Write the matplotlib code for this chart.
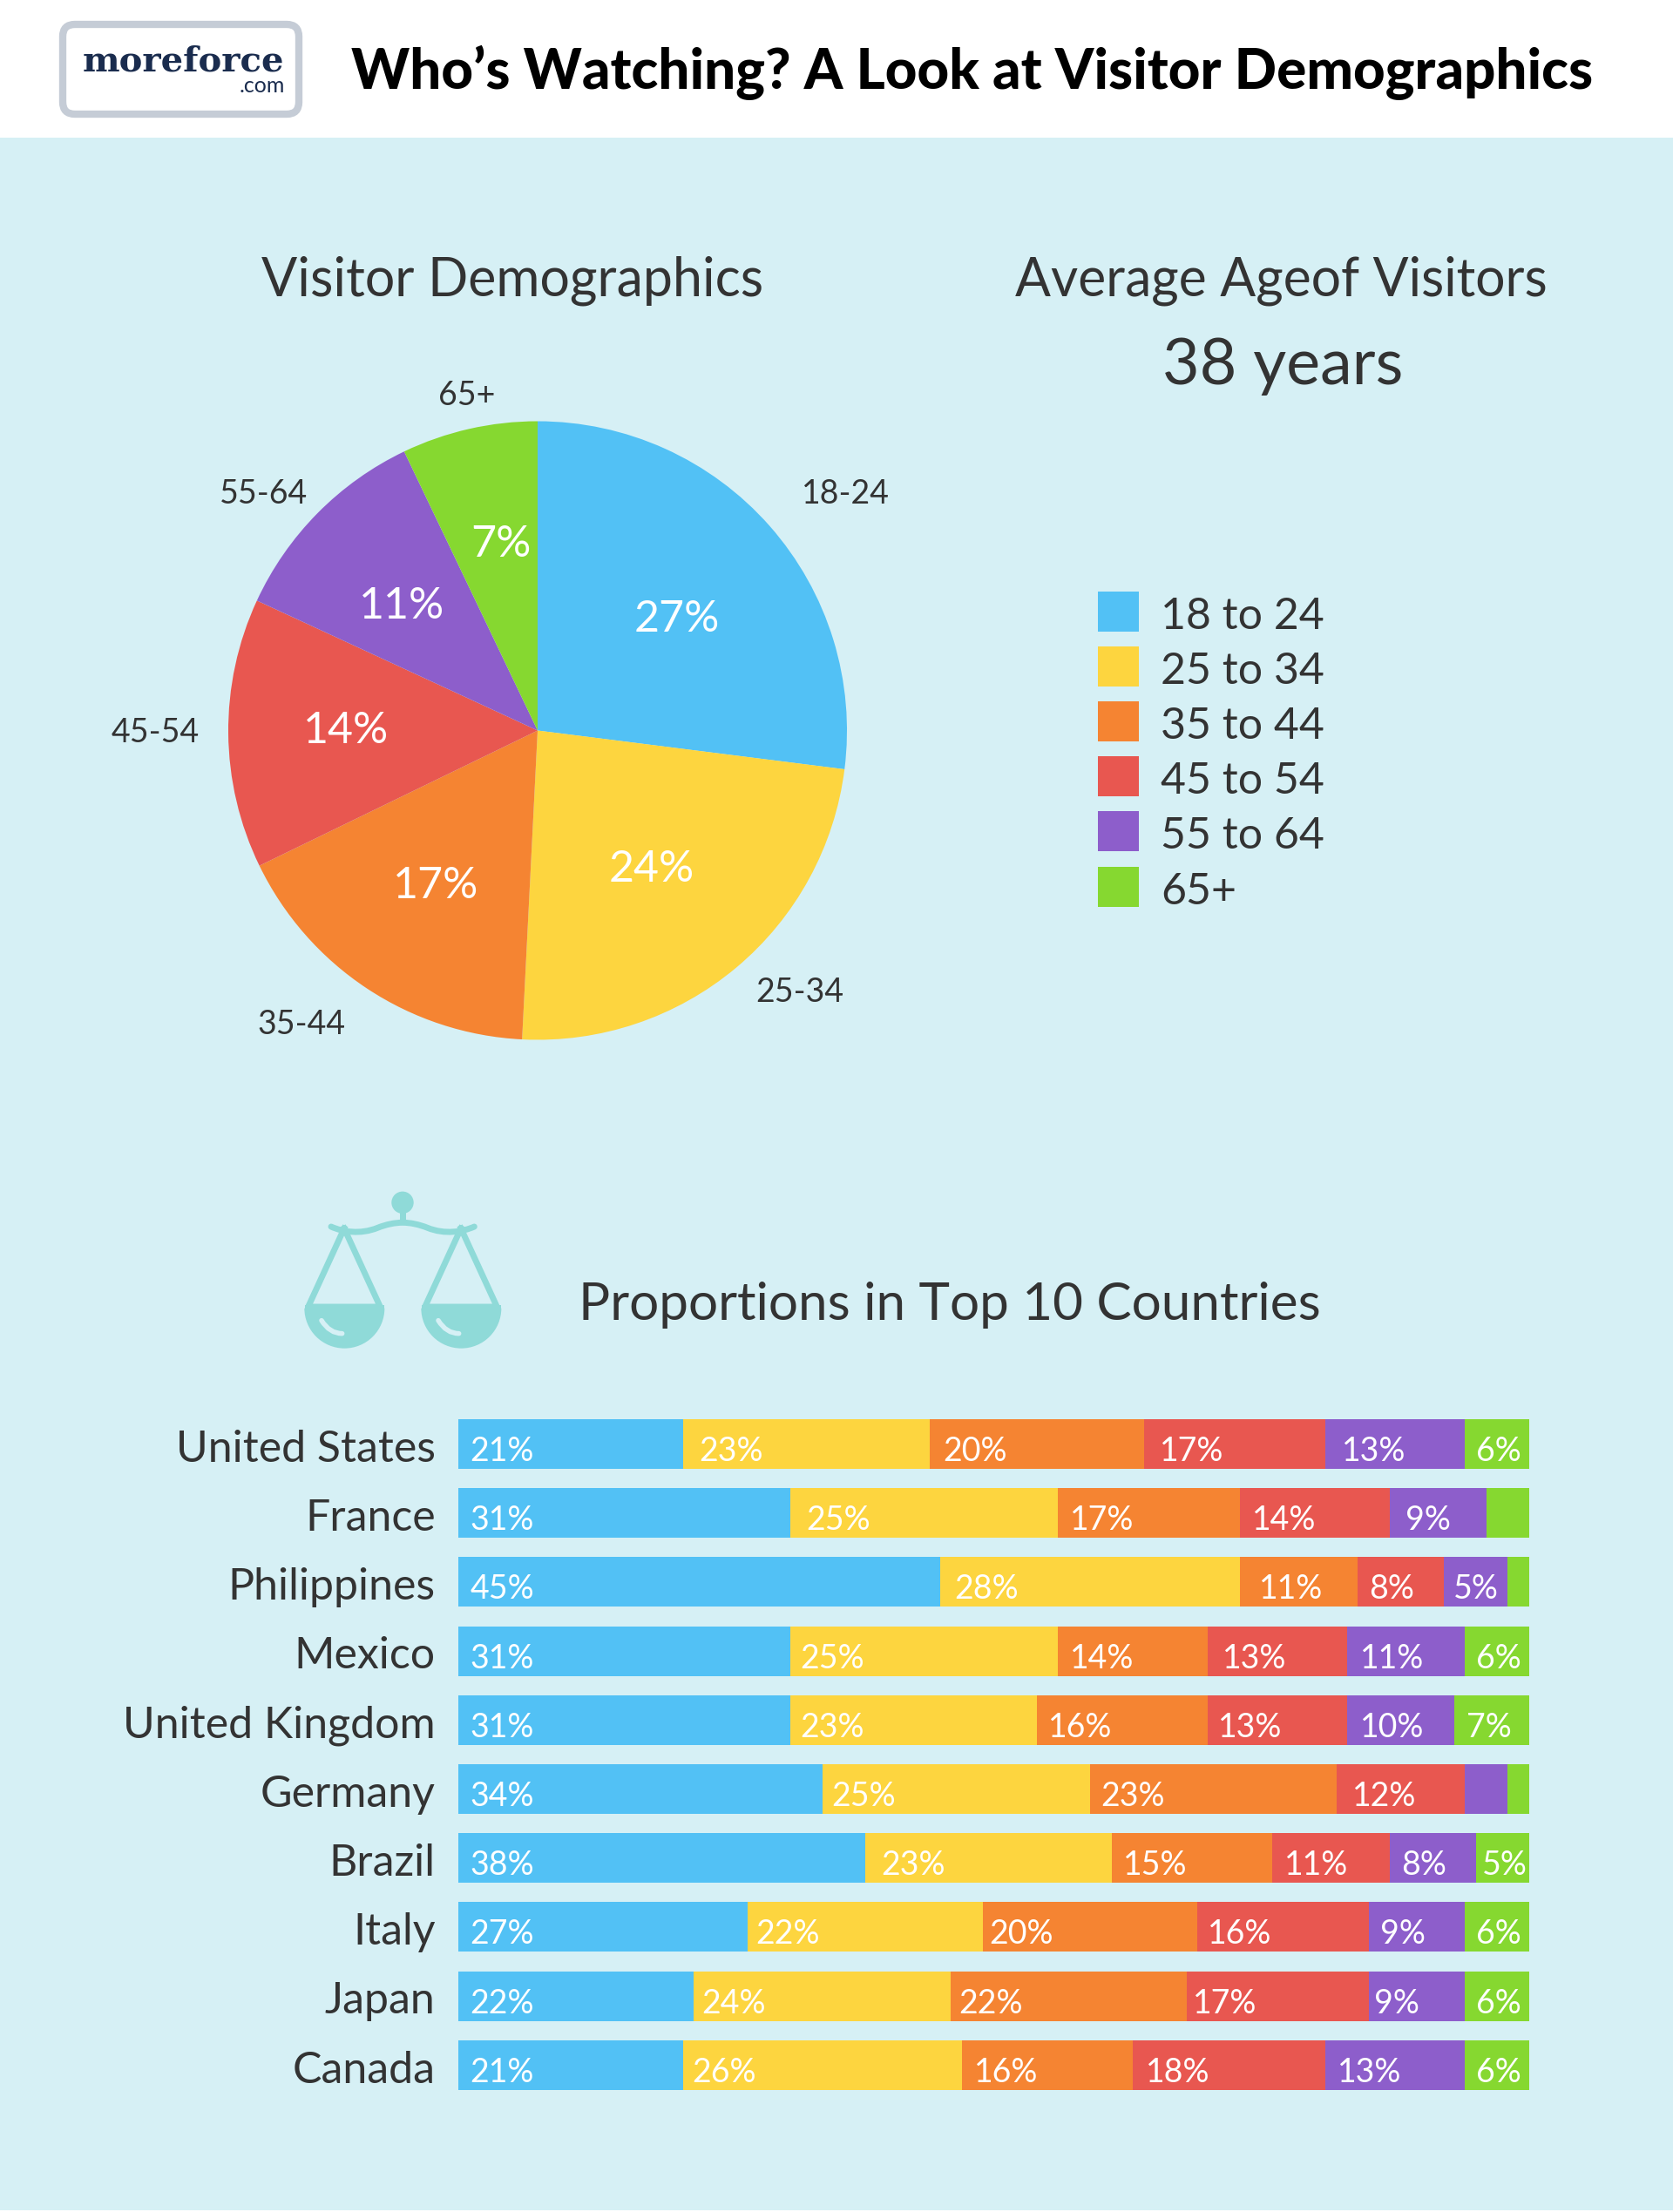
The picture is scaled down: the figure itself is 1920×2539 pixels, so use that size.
import matplotlib
matplotlib.use("Agg")
import matplotlib.pyplot as plt
import numpy as np
from matplotlib.patches import Rectangle, Circle, FancyBboxPatch, PathPatch, Wedge
from matplotlib.path import Path

W, H = 1920, 2539
BG = "#d6f0f5"; INK = "#333333"; ICON = "#8fdad8"
plt.rcParams["font.family"] = ["Lato", "DejaVu Sans"]

age_groups = ["18-24", "25-34", "35-44", "45-54", "55-64", "65+"]
legend_labels = ["18 to 24", "25 to 34", "35 to 44", "45 to 54", "55 to 64", "65+"]
colors = ["#52c1f5", "#fdd53f", "#f58432", "#e85750", "#8d5ecb", "#86d830"]
pie_values = [27.0, 23.8, 17.0, 14.1, 11.0, 7.1]

countries = ["United States", "France", "Philippines", "Mexico", "United Kingdom",
             "Germany", "Brazil", "Italy", "Japan", "Canada"]
share_18_24 = [21, 31, 45, 31, 31, 34, 38, 27, 22, 21]
share_25_34 = [23, 25, 28, 25, 23, 25, 23, 22, 24, 26]
share_35_44 = [20, 17, 11, 14, 16, 23, 15, 20, 22, 16]
share_45_54 = [17, 14, 8, 13, 13, 12, 11, 16, 17, 18]
share_55_64 = [13, 9, 6, 11, 10, 4, 8, 9, 9, 13]
share_65_up = [6, 4, 2, 6, 7, 2, 5, 6, 6, 6]
shares = [share_18_24, share_25_34, share_35_44, share_45_54, share_55_64, share_65_up]

# text printed on the bars, by country then age group
bar_text = [
    ["21%", "23%", "20%", "17%", "13%", "6%"],
    ["31%", "25%", "17%", "14%", "9%", ""],
    ["45%", "28%", "11%", "8%", "5%", ""],
    ["31%", "25%", "14%", "13%", "11%", "6%"],
    ["31%", "23%", "16%", "13%", "10%", "7%"],
    ["34%", "25%", "23%", "12%", "", ""],
    ["38%", "23%", "15%", "11%", "8%", "5%"],
    ["27%", "22%", "20%", "16%", "9%", "6%"],
    ["22%", "24%", "22%", "17%", "9%", "6%"],
    ["21%", "26%", "16%", "18%", "13%", "6%"],
]
# layout: left edge of each printed label, in the 1186-wide preview's pixels
bar_text_left = [
    [334, 496, 669, 823, 952, 1047],
    [334, 572, 759, 888, 997, 0],
    [334, 677, 893, 971, 1031, 0],
    [334, 568, 759, 867, 965, 1047],
    [334, 568, 744, 864, 965, 1040],
    [334, 590, 781, 959, 0, 0],
    [334, 625, 797, 911, 994, 1051],
    [334, 536, 702, 857, 979, 1047],
    [334, 498, 680, 846, 975, 1047],
    [334, 491, 691, 813, 949, 1047],
]

fig = plt.figure(figsize=(W / 100, H / 100), dpi=100, facecolor="white")
fig.add_artist(Rectangle((0, 2 / H), 1, 1 - 158 / H - 2 / H, transform=fig.transFigure,
                         color=BG, lw=0, zorder=-1))

def px_axes(x0, y0, x1, y1, **kw):
    return fig.add_axes([x0 / W, 1 - y1 / H, (x1 - x0) / W, (y1 - y0) / H], **kw)

# pie
cx, cy, r = 617, 838.5, 355
pie_ax = px_axes(cx - r, cy - r, cx + r, cy + r, facecolor="none")
pie_ax.pie(pie_values, colors=colors, startangle=90, counterclock=False, radius=1)
pie_ax.set_xlim(-1, 1); pie_ax.set_ylim(-1, 1); pie_ax.axis("off")

# bars
row0, pitch, bar_h = 1657.5, 79.2, 57
bar_ax = px_axes(526, row0 - pitch / 2, 1755, row0 + 9.5 * pitch, facecolor="none")
left = np.zeros(len(countries))
for k, vals in enumerate(shares):
    vals = np.array(vals, float)
    bar_ax.barh(np.arange(len(countries)), vals, left=left, height=bar_h / pitch,
                color=colors[k], lw=0)
    left += vals
bar_ax.set_xlim(0, 100); bar_ax.set_ylim(9.5, -0.5); bar_ax.axis("off")
for i, c in enumerate(countries):
    bar_ax.annotate(c, (0, i), xytext=(-19, -4.5), textcoords="offset points", color=INK,
                    fontsize=36, ha="right", va="center")

# overlay in pixel coordinates
ov = px_axes(0, 0, W, H, facecolor="none", zorder=5)
ov.set_xlim(0, W); ov.set_ylim(H, 0); ov.axis("off")

for i, (texts, lefts) in enumerate(zip(bar_text, bar_text_left)):
    for t, lx in zip(texts, lefts):
        if t:
            ov.text((lx - 0.6) * W / 1186, row0 + i * pitch + 8.5, t, color="white", fontsize=27,
                    ha="left", va="center")

# logo
ov.add_patch(FancyBboxPatch((72, 28), 271, 103, boxstyle="round,pad=0,rounding_size=14",
                            fc="white", ec="#c5ccd6", lw=6))
ov.text(210.5, 71, "moreforce", family="DejaVu Serif", weight="bold", fontsize=29,
        color="#1a2c4e", ha="center", va="center")
ov.text(327, 99, ".com", fontsize=18, color="#1a2c4e", ha="right", va="center")

ov.text(1116, 83, "Who’s Watching? A Look at Visitor Demographics", weight="black",
        fontsize=45.8, color="black", ha="center", va="center")
ov.text(588, 322, "Visitor Demographics", fontsize=43.8, color=INK, ha="center", va="center")
ov.text(1470, 322, "Average Ageof Visitors", fontsize=43.6, color=INK, ha="center", va="center")
ov.text(1472, 420, "38 years", fontsize=53, color=INK, ha="center", va="center")
ov.text(1090, 1498, "Proportions in Top 10 Countries", fontsize=43.4, color=INK, ha="center", va="center")

# pie annotations
out_pos = [(970, 567), (918, 1139), (346, 1176), (178, 841), (303, 567), (536, 454)]
in_pos = [(777, 711), (748, 998), (500, 1017), (397, 839), (461, 696), (575, 625)]
for g, v, p, q in zip(age_groups, pie_values, out_pos, in_pos):
    ov.text(*p, g, fontsize=27, color=INK, ha="center", va="center")
    ov.text(*q, f"{round(v)}%", fontsize=36, color="white", ha="center", va="center")

# legend
for k, (lab, col) in enumerate(zip(legend_labels, colors)):
    y = 679 + k * 63.1
    ov.add_patch(Rectangle((1260, y), 47, 46, color=col, lw=0))
    ov.text(1332, y + 29, lab, fontsize=36, color=INK, ha="left", va="center")

# scales icon
P = lambda x, y: (300 + x / 3, 1340 + y / 3)
ov.add_patch(Circle(P(486, 121), 12.7, color=ICON, lw=0))
ov.add_patch(Rectangle((459, 1390), 7, 14, color=ICON, lw=0))
beam = [(240, 204), (280, 222), (340, 232), (400, 208), (430, 196), (460, 190), (486, 190),
        (512, 190), (542, 196), (572, 208), (632, 232), (692, 222), (733, 204)]
codes = [Path.MOVETO] + [Path.CURVE4] * 12
ov.add_patch(PathPatch(Path([P(*b) for b in beam], codes), fc="none", ec=ICON, lw=5, capstyle="round"))
for ax_ in (285, 687):
    ov.plot(*zip(P(ax_, 210), P(ax_ - 124, 480), P(ax_ + 124, 480), P(ax_, 210)), color=ICON,
            lw=5, solid_joinstyle="round")
    ov.add_patch(Wedge(P(ax_ + 1, 485), 46, 0, 180, color=ICON, lw=0))
    ov.add_patch(Rectangle(P(ax_ - 136, 475), 91, 4, color=ICON, lw=0))
    hl = [P(ax_ - 78, 527), P(ax_ - 50, 572), P(ax_ - 7, 572)]
    ov.add_patch(PathPatch(Path(hl, [Path.MOVETO, Path.CURVE3, Path.CURVE3]), fc="none", ec=BG,
                           lw=4, capstyle="round"))

fig.savefig("out.png", dpi=100, facecolor="white")
